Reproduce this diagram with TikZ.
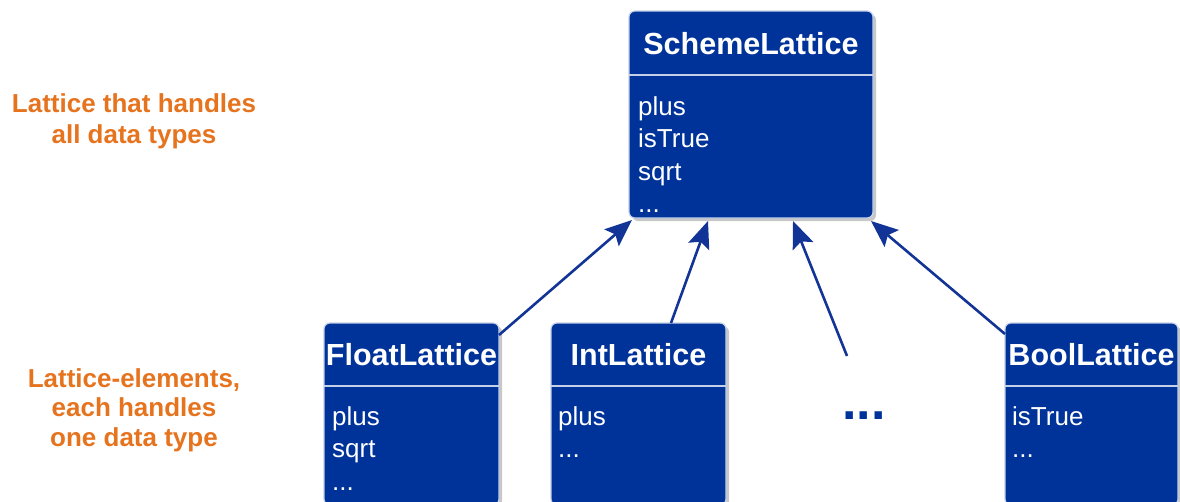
\documentclass[tikz,border=0pt]{standalone}
\usepackage{fontspec}
\setmainfont{Liberation Sans}
\usetikzlibrary{arrows.meta,shadows,calc}
\definecolor{boxblue}{RGB}{0,51,153}
\definecolor{arrowblue}{RGB}{18,52,150}
\definecolor{lborder}{RGB}{195,208,232}
\definecolor{orangetxt}{RGB}{230,115,30}
\begin{document}
\begin{tikzpicture}[x=1pt,y=-1pt,
  umlbox/.style={draw=lborder, line width=1.2pt, fill=boxblue, rounded corners=6pt,
    anchor=north west, inner sep=0pt, outer sep=0pt,
    drop shadow={shadow xshift=3pt, shadow yshift=-3pt, fill=black, opacity=0.22}},
  hdr/.style={text=white, font=\fontsize{30.5}{34}\selectfont\bfseries, anchor=base, inner sep=0pt},
  member/.style={text=white, font=\fontsize{26}{30}\selectfont, anchor=base west, inner sep=0pt},
  divider/.style={draw=lborder, line width=2pt},
  inherit/.style={draw=arrowblue, line width=2.6pt, -{Stealth[length=27pt,width=22pt,inset=5pt]}},
  note/.style={text=orangetxt, font=\fontsize{26}{30}\selectfont\bfseries, anchor=base, inner sep=0pt}
]
\useasboundingbox (0,0) rectangle (1180,501);

% boxes
\node[umlbox, minimum width=244pt, minimum height=207pt] (scheme) at (629,11) {};
\node[umlbox, minimum width=175pt, minimum height=182pt] (float) at (324,323) {};
\node[umlbox, minimum width=175pt, minimum height=182pt] (int) at (551,323) {};
\node[umlbox, minimum width=173pt, minimum height=182pt] (bool) at (1005,323) {};

% dividers
\draw[divider] ([yshift=-64pt]scheme.north west) -- ([yshift=-64pt]scheme.north east);
\draw[divider] ([yshift=-63pt]float.north west) -- ([yshift=-63pt]float.north east);
\draw[divider] ([yshift=-63pt]int.north west) -- ([yshift=-63pt]int.north east);
\draw[divider] ([yshift=-63pt]bool.north west) -- ([yshift=-63pt]bool.north east);

% headers
\node[hdr] (schemeT) at (751,54) {SchemeLattice};
\node[hdr] (floatT) at (411.5,365) {FloatLattice};
\node[hdr] (intT) at (638.5,365) {IntLattice};
\node[hdr] (boolT) at (1091.5,365) {BoolLattice};

% members
\node[member] (s1) at (638,115) {plus};
\node[member] (s2) at (638,147.5) {isTrue};
\node[member] (s3) at (638,180) {sqrt};
\node[member] (s4) at (638,212.5) {...};

\node[member] (f1) at (332,425) {plus};
\node[member] (f2) at (332,457.5) {sqrt};
\node[member] (f3) at (332,490) {...};

\node[member] (i1) at (558,425) {plus};
\node[member] (i2) at (558,457.5) {...};

\node[member] (b1) at (1012,425) {isTrue};
\node[member] (b2) at (1012,457.5) {...};

% big dots
\node[text=boxblue, font=\fontsize{52}{56}\selectfont\bfseries, anchor=base, inner sep=0pt] (dots) at (864,419.5) {...};
\coordinate (dotsend) at (847,356);

% arrows
\draw[inherit] ([yshift=-12pt]float.north east) -- ([xshift=3pt,yshift=-2pt]scheme.south west);
\draw[inherit] ([xshift=32.5pt]int.north) -- ([xshift=-43pt,yshift=-3pt]scheme.south);
\draw[inherit] (dotsend) -- ([xshift=42pt,yshift=-3pt]scheme.south);
\draw[inherit] ([yshift=-11pt]bool.north west) -- ([xshift=-2pt,yshift=-3pt]scheme.south east);

% notes
\node[note] (n1) at (134,112) {Lattice that handles};
\node[note] (n2) at (134,143) {all data types};
\node[note] (n3) at (134,387) {Lattice-elements,};
\node[note] (n4) at (134,416.5) {each handles\ };
\node[note] (n5) at (134,446) {one data type};
\end{tikzpicture}
\end{document}
